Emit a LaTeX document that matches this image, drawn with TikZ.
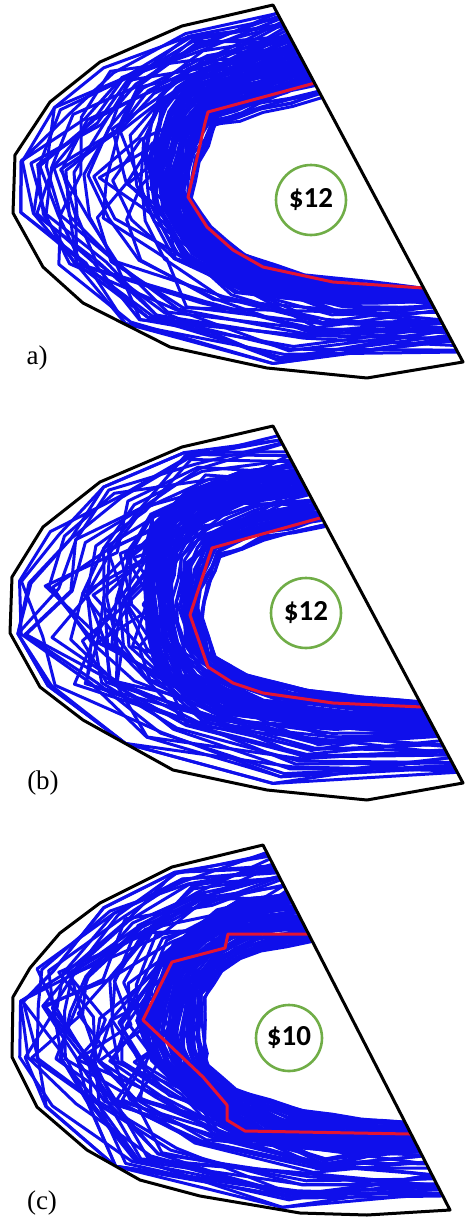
\documentclass[tikz,border=0pt]{standalone}
\usepackage{fontspec}
\setmainfont{Liberation Serif}
\newfontfamily\calfont{Carlito}
\definecolor{pathblue}{RGB}{15,15,235}
\definecolor{optred}{RGB}{228,20,50}
\definecolor{circgreen}{RGB}{112,173,71}
\tikzset{
  bluepath/.style={draw=pathblue,line width=3pt,line join=round,line cap=round},
  redpath/.style={draw=optred,line width=3pt,line join=round},
  hull/.style={draw=black,line width=3pt,line join=round},
  costcirc/.style={circle,draw=circgreen,line width=2.6pt,minimum size=70pt,inner sep=0pt,font=\calfont\bfseries\fontsize{29}{29}\selectfont},
  panellabel/.style={inner sep=0pt,font=\fontsize{27}{27}\selectfont}
}
\newcommand{\setarr}[2]{%
  \foreach \vv [count=\ii from 0] in {#2}{\expandafter\xdef\csname #1\ii\endcsname{\vv}}%
}
% #1 N, #2 smin, #3 srange, #4 jitter, #5 #6 inner x,y names, #7 #8 outer x,y names, #9 subdivisions
\newcommand{\mkpaths}[9]{%
  \pgfmathtruncatemacro\kmax{9*#9}%
  \foreach \pp in {1,...,#1}{%
    \pgfmathsetmacro\sbase{#2+#3*rnd}%
    \foreach \kk in {0,...,\kmax}{%
      \pgfmathtruncatemacro\ka{floor(\kk/#9)}%
      \pgfmathtruncatemacro\kb{ceil(\kk/#9)}%
      \pgfmathsetmacro\ff{\kk/#9-\ka}%
      \pgfmathsetmacro\ss{max(-0.08,min(0.97,\sbase+#4*rand))}%
      \pgfmathsetmacro\xIn{\csname #5\ka\endcsname+\ff*(\csname #5\kb\endcsname-\csname #5\ka\endcsname)}%
      \pgfmathsetmacro\yIn{\csname #6\ka\endcsname+\ff*(\csname #6\kb\endcsname-\csname #6\ka\endcsname)}%
      \pgfmathsetmacro\xOut{\csname #7\ka\endcsname+\ff*(\csname #7\kb\endcsname-\csname #7\ka\endcsname)}%
      \pgfmathsetmacro\yOut{\csname #8\ka\endcsname+\ff*(\csname #8\kb\endcsname-\csname #8\ka\endcsname)}%
      \pgfmathsetmacro\xx{\xIn+\ss*(\xOut-\xIn)}%
      \pgfmathsetmacro\yy{\yIn+\ss*(\yOut-\yIn)}%
      \ifnum\kk=0 \xdef\pspec{(\xx,\yy)}\else\xdef\pspec{\pspec -- (\xx,\yy)}\fi
    }%
    \edef\tmp{\noexpand\draw[bluepath] \pspec;}\tmp
  }%
}
\begin{document}
\begin{tikzpicture}[x=1pt,y=-1pt]
\useasboundingbox (0,0) rectangle (465,1218);
\pgfmathsetseed{2718}
% ---------------- panel a ----------------
\setarr{Ix}{320,262,215,198,190,207,245,300,370,423}
\setarr{Iy}{95,110,125,160,197,225,255,276,283,288}
\setarr{Bx}{282,240,187,157,143,147,173,233,330,430}
\setarr{By}{22,45,67,92,150,200,253,293,305,302}
\setarr{Ox}{277,182,100,50,16,15,45,120,270,458}
\setarr{Oy}{10,30,66,106,160,212,265,325,366,354}
\begin{scope}
  \clip (273,5) -- (182,26) -- (100,62) -- (50,102) -- (15,155) -- (13,213) -- (43,267) -- (83,303) -- (170,347) -- (267,368) -- (367,378) -- (463,362) -- cycle;
  \mkpaths{60}{-0.05}{1.05}{0.05}{Ix}{Iy}{Bx}{By}{2}
  \mkpaths{30}{0.2}{0.75}{0.17}{Ix}{Iy}{Ox}{Oy}{1}
\end{scope}
\draw[redpath] (315,83) -- (208,112) -- (205,123) -- (188,197) -- (193,205) -- (207,227) -- (233,250) -- (263,267) -- (333,282) -- (423,288);
\draw[hull] (273,5) -- (182,26) -- (100,62) -- (50,102) -- (15,155) -- (13,213) -- (43,267) -- (83,303) -- (170,347) -- (267,368) -- (367,378) -- (463,362) -- cycle;
\node[costcirc] (ca) at (311,200) {\$12};
\node[panellabel] (la) at (37,358) {a)};
% ---------------- panel b ----------------
\setarr{Ix}{322,262,218,205,198,210,240,300,370,420}
\setarr{Iy}{522,535,553,580,615,655,675,692,700,704}
\setarr{Bx}{293,240,185,150,143,145,155,210,330,437}
\setarr{By}{463,470,490,525,580,630,675,713,728,735}
\setarr{Ox}{277,182,100,45,14,12,42,120,270,458}
\setarr{Oy}{433,450,485,530,580,633,686,745,786,775}
\begin{scope}
  \clip (273,426) -- (182,447) -- (100,482) -- (43,527) -- (12,577) -- (10,633) -- (40,687) -- (83,720) -- (173,770) -- (267,790) -- (367,800) -- (463,783) -- cycle;
  \mkpaths{65}{-0.08}{1.08}{0.05}{Ix}{Iy}{Bx}{By}{2}
  \mkpaths{34}{0.2}{0.75}{0.17}{Ix}{Iy}{Ox}{Oy}{1}
\end{scope}
\draw[redpath] (320,518) -- (212,548) -- (190,615) -- (208,667) -- (233,683) -- (263,693) -- (333,703) -- (422,707);
\draw[hull] (273,426) -- (182,447) -- (100,482) -- (43,527) -- (12,577) -- (10,633) -- (40,687) -- (83,720) -- (173,770) -- (267,790) -- (367,800) -- (463,783) -- cycle;
\node[costcirc] (cb) at (306,613) {\$12};
\node[panellabel] (lb) at (43,783) {(b)};
% ---------------- panel c ----------------
\setarr{Ix}{310,260,220,202,200,205,233,300,360,405}
\setarr{Iy}{938,948,968,995,1040,1065,1090,1112,1120,1124}
\setarr{Bx}{293,240,195,160,135,150,190,240,330,418}
\setarr{By}{893,898,925,955,1020,1060,1100,1140,1150,1150}
\setarr{Ox}{265,172,100,32,15,14,40,110,280,445}
\setarr{Oy}{850,870,906,968,1000,1057,1107,1168,1210,1202}
\begin{scope}
  \clip (263,845) -- (172,867) -- (100,903) -- (60,933) -- (30,968) -- (13,997) -- (12,1057) -- (37,1107) -- (87,1150) -- (140,1180) -- (200,1196) -- (300,1213) -- (367,1215) -- (450,1210) -- cycle;
  \mkpaths{65}{-0.05}{1.05}{0.05}{Ix}{Iy}{Bx}{By}{2}
  \mkpaths{36}{0.2}{0.75}{0.17}{Ix}{Iy}{Ox}{Oy}{1}
\end{scope}
\draw[redpath] (308,934) -- (228,934) -- (225,948) -- (172,962) -- (143,1020) -- (203,1077) -- (227,1105) -- (227,1120) -- (245,1131) -- (410,1134);
\draw[hull] (263,845) -- (172,867) -- (100,903) -- (60,933) -- (30,968) -- (13,997) -- (12,1057) -- (37,1107) -- (87,1150) -- (140,1180) -- (200,1196) -- (300,1213) -- (367,1215) -- (450,1210) -- cycle;
\node[costcirc,minimum size=66pt] (cc) at (289,1038) {\$10};
\node[panellabel] (lc) at (42,1203) {(c)};
\end{tikzpicture}
\end{document}
